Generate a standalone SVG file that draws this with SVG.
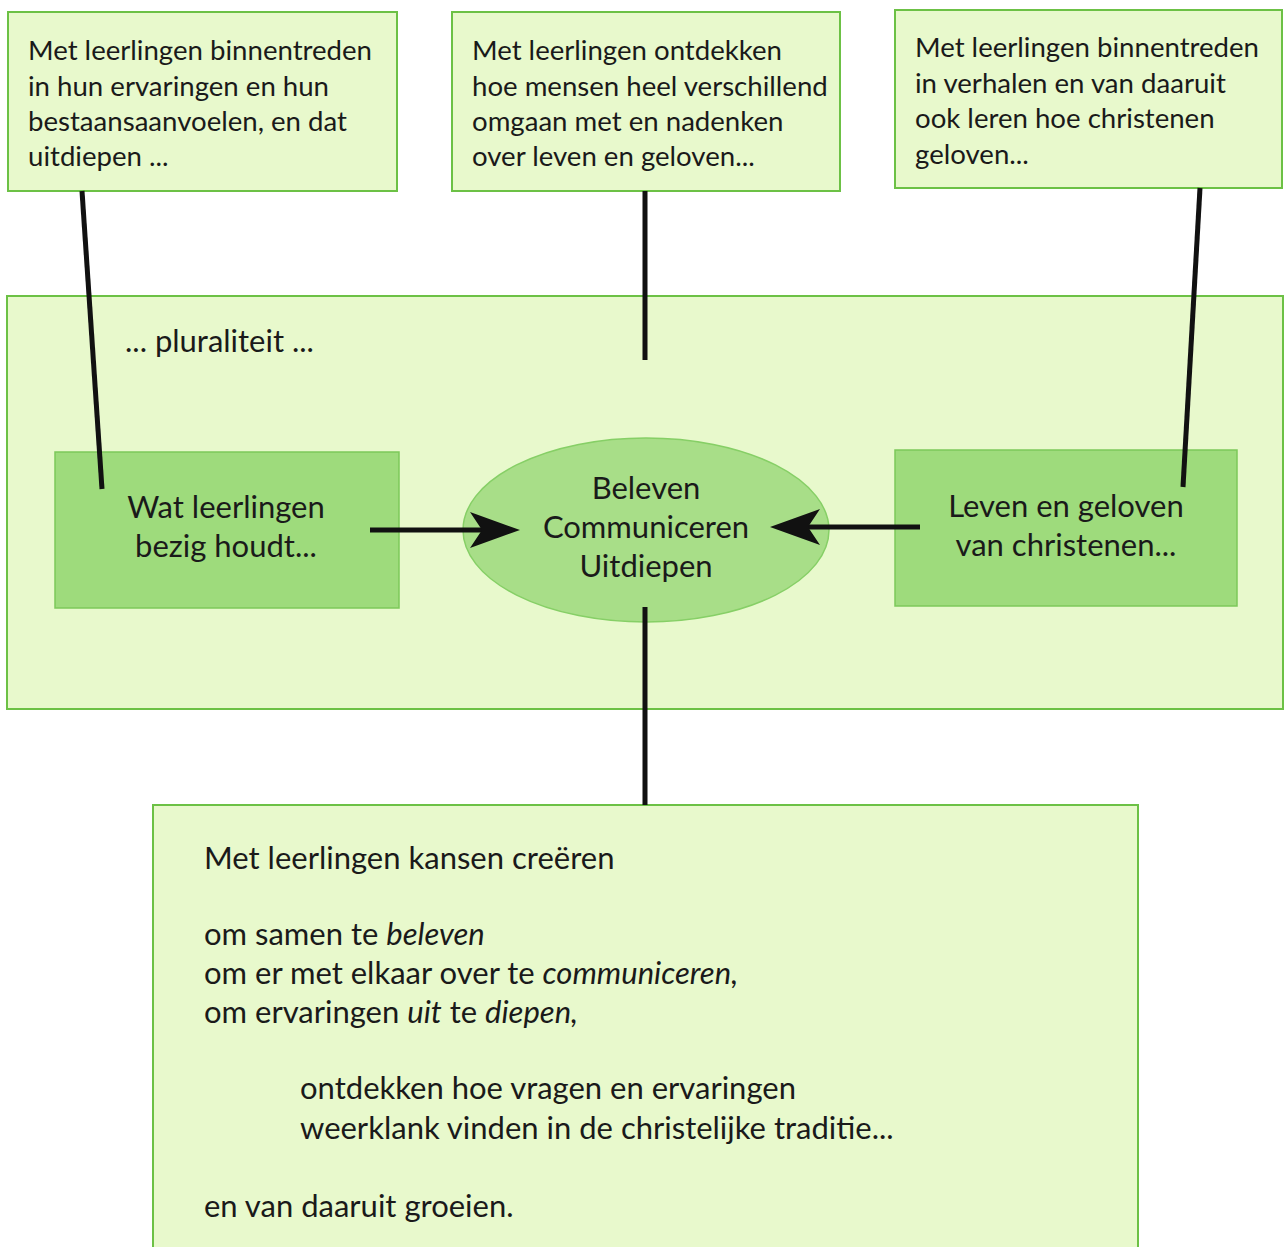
<svg xmlns="http://www.w3.org/2000/svg" width="1285" height="1247" viewBox="0 0 1285 1247">
<defs>
<style>
.box{fill:#e8f9cc;stroke:#6cc145;stroke-width:2}
.inner{fill:#9edb7c;stroke:#7cc95a;stroke-width:1.5}
.ell{fill:#a8de88;stroke:#86cf66;stroke-width:1.5}
text{font-family:Lato,"Liberation Sans",sans-serif;font-size:27.6px;fill:#1a1a1a}
.c{text-anchor:middle}
.big{font-size:31px}
.ln{stroke:#111;stroke-width:5;fill:none}
</style>
<marker id="ah" viewBox="0 0 50 40" refX="50" refY="20" markerWidth="50" markerHeight="40" markerUnits="userSpaceOnUse" orient="auto">
<path d="M0,2 L50,20 L0,38 L12,20 Z" fill="#111"/>
</marker>
</defs>
<rect width="1285" height="1247" fill="#fff"/>
<g id="frame"><rect class="box" x="7" y="296" width="1276" height="413"/>
<text class="big" x="125" y="352">... pluraliteit ...</text></g>
<g id="top1"><rect class="box" x="8" y="12" width="389" height="179"/>
<text x="28" y="60">Met leerlingen binnentreden</text>
<text x="28" y="96">in hun ervaringen en hun</text>
<text x="28" y="131">bestaansaanvoelen, en dat</text>
<text x="28" y="166">uitdiepen ...</text></g>
<g id="top2"><rect class="box" x="452" y="12" width="388" height="179"/>
<text x="472" y="60">Met leerlingen ontdekken</text>
<text x="472" y="96">hoe mensen heel verschillend</text>
<text x="472" y="131">omgaan met en nadenken</text>
<text x="472" y="166">over leven en geloven...</text></g>
<g id="top3"><rect class="box" x="895" y="10" width="387" height="178"/>
<text x="915" y="57">Met leerlingen binnentreden</text>
<text x="915" y="93">in verhalen en van daaruit</text>
<text x="915" y="128">ook leren hoe christenen</text>
<text x="915" y="164">geloven...</text></g>
<g id="left"><rect class="inner" x="55" y="452" width="344" height="156"/>
<text class="c big" x="226" y="518">Wat leerlingen</text>
<text class="c big" x="226" y="557">bezig houdt...</text></g>
<g id="right"><rect class="inner" x="895" y="450" width="342" height="156"/>
<text class="c big" x="1066" y="517">Leven en geloven</text>
<text class="c big" x="1066" y="556">van christenen...</text></g>
<g id="center"><ellipse class="ell" cx="646" cy="530" rx="183" ry="92"/>
<text class="c big" x="646" y="499">Beleven</text>
<text class="c big" x="646" y="538">Communiceren</text>
<text class="c big" x="646" y="577">Uitdiepen</text></g>
<g id="bottom"><rect class="box" x="153" y="805" width="985" height="460"/>
<text class="big" x="204" y="869">Met leerlingen kansen creëren</text>
<text class="big" x="204" y="945">om samen te <tspan font-style="italic">beleven</tspan></text>
<text class="big" x="204" y="984">om er met elkaar over te <tspan font-style="italic">communiceren,</tspan></text>
<text class="big" x="204" y="1023">om ervaringen <tspan font-style="italic">uit</tspan> te <tspan font-style="italic">diepen,</tspan></text>
<text class="big" x="300" y="1099">ontdekken hoe vragen en ervaringen</text>
<text class="big" x="300" y="1139">weerklank vinden in de christelijke traditie...</text>
<text class="big" x="204" y="1217">en van daaruit groeien.</text></g>
<g id="connectors">
<line class="ln" x1="82" y1="191" x2="102" y2="489"/>
<line class="ln" x1="645" y1="191" x2="645" y2="360"/>
<line class="ln" x1="1200" y1="188" x2="1183" y2="487"/>
<line class="ln" x1="645" y1="607" x2="645" y2="805"/>
<line class="ln" x1="370" y1="530" x2="485" y2="530"/>
<path d="M470,512 L520,530 L470,548 L482,530 Z" fill="#111"/>
<line class="ln" x1="920" y1="527" x2="805" y2="527"/>
<path d="M820,509 L770,527 L820,545 L808,527 Z" fill="#111"/>
</g>
</svg>
